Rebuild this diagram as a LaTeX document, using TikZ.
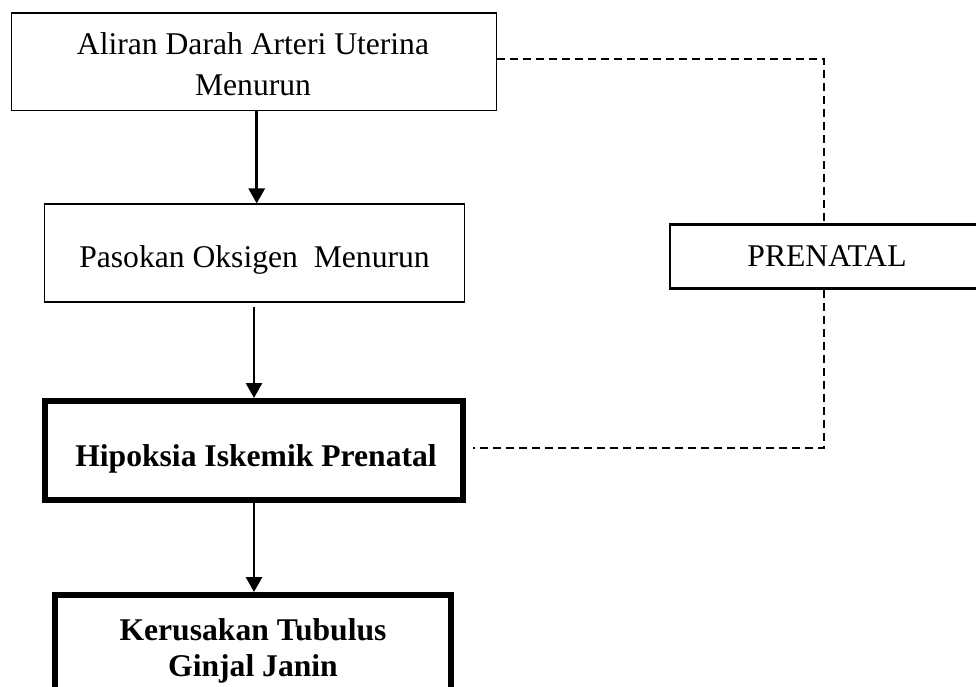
\documentclass[tikz,border=0pt]{standalone}
\usepackage{fontspec}
\setmainfont{Liberation Serif}
\usetikzlibrary{arrows.meta}
\tikzset{
  thinbox/.style={draw, line width=0.6pt, inner sep=0pt},
  thickbox/.style={draw, line width=3.4pt, inner sep=0pt},
  prebox/.style={draw, line width=1.3pt, inner sep=0pt},
  txt/.style={anchor=base, inner sep=0pt, font=\fontsize{18}{23.2}\selectfont},
  btxt/.style={anchor=base, inner sep=0pt, font=\fontsize{18}{21}\selectfont\bfseries},
  arr/.style={line width=1.6pt, -{Triangle[length=0.3cm,width=0.32cm]}},
  dashlink/.style={line width=0.85pt, dash pattern=on 0.16cm off 0.1cm}
}
\begin{document}
\begin{tikzpicture}[x=0.02cm,y=-0.02cm]
\path[use as bounding box] (0,0) rectangle (976,686);
\clip (0,0) rectangle (976,686);
% boxes
\node[thinbox, minimum width=9.706cm, minimum height=1.95cm] (b1) at (254.3,61.75) {};
\node[thinbox, minimum width=8.42cm, minimum height=1.96cm] (b2) at (254.5,253) {};
\node[thickbox, minimum width=8.36cm, minimum height=1.98cm] (b3) at (254,450.5) {};
\node[thickbox, minimum width=7.92cm, minimum height=3cm] (b4) at (253,670) {};
\node[prebox, minimum width=6.5cm, minimum height=1.28cm] (pre) at (832.5,256.5) {};
% texts
\node[txt] (t1) at (253,55) {\begin{tabular}[t]{@{}c@{}}Aliran Darah Arteri Uterina\\Menurun\end{tabular}};
\node[txt] (t2) at (254.5,267) {Pasokan Oksigen\ \ Menurun};
\node[btxt] (t3) at (256,466) {Hipoksia Iskemik Prenatal};
\node[btxt] (t4) at (253,640) {\begin{tabular}[t]{@{}c@{}}Kerusakan Tubulus\\Ginjal Janin\end{tabular}};
\node[txt] (t5) at (827,266) {PRENATAL};
% arrows
\coordinate (x1) at (256.7,0);
\coordinate (x2) at (254,0);
\draw[arr] (b1.south -| x1) -- (b2.north -| x1);
\draw[arr, shorten <=0.08cm] (b2.south -| x2) -- (b3.north -| x2);
\draw[arr] (b3.south -| x2) -- (b4.north -| x2);
% dashed links
\coordinate (c1) at (824,59);
\coordinate (c2) at (824,448);
\draw[dashlink] (b1.east |- c1) -- (c1) -- (pre.north -| c1);
\draw[dashlink] (pre.south -| c2) -- (c2) -- ([xshift=0.14cm]b3.east |- c2);
\end{tikzpicture}
\end{document}
